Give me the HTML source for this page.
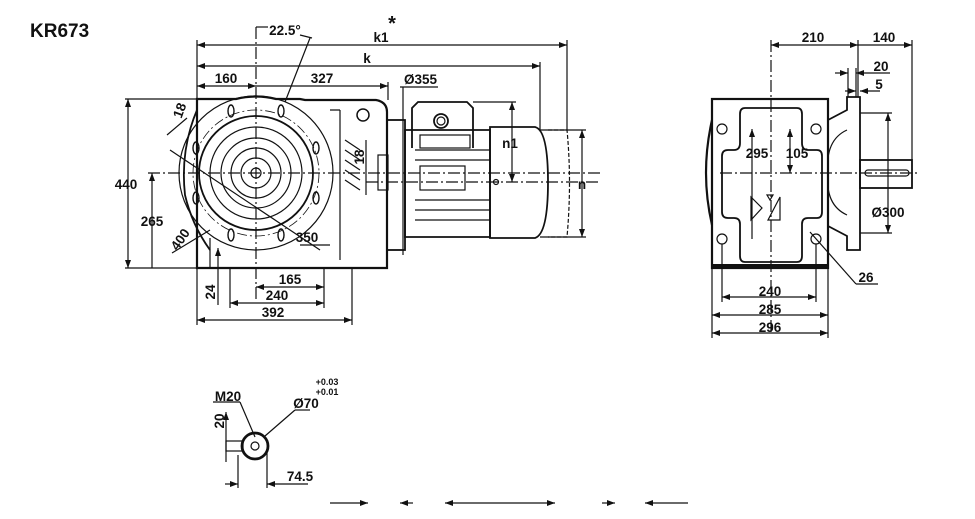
<!DOCTYPE html>
<html><head><meta charset="utf-8"><style>
html,body{margin:0;padding:0;background:#fff;}
svg{display:block;}
text{font-family:"Liberation Sans",Arial,sans-serif;font-weight:bold;fill:#111;}
</style></head><body>
<svg width="975" height="519" viewBox="0 0 975 519" xmlns="http://www.w3.org/2000/svg">
<defs>
<marker id="a" markerWidth="8" markerHeight="6" refX="8" refY="3" orient="auto-start-reverse" markerUnits="userSpaceOnUse"><path d="M0,0L8,3L0,6z" fill="#111"/></marker>
</defs>
<text x="30" y="37" font-size="19">KR673</text>

<g stroke="#111" fill="none" stroke-width="1.2">
<line x1="197" y1="45" x2="567" y2="45" marker-start="url(#a)" marker-end="url(#a)"/>
<line x1="197" y1="66" x2="540" y2="66" marker-start="url(#a)" marker-end="url(#a)"/>
<line x1="197" y1="86" x2="256" y2="86" marker-start="url(#a)" marker-end="url(#a)"/>
<line x1="256" y1="86" x2="388" y2="86" marker-end="url(#a)"/>
<line x1="197" y1="40" x2="197" y2="325"/>
<line x1="567" y1="40" x2="567" y2="130"/>
<line x1="540" y1="62" x2="540" y2="130"/>
<line x1="388" y1="82" x2="388" y2="100"/>
<line x1="256" y1="27" x2="256" y2="300" stroke-dasharray="12,3,2,3"/>
<line x1="256" y1="27" x2="268" y2="27"/>
<line x1="310" y1="38" x2="285" y2="102"/>
<line x1="300" y1="35" x2="312" y2="38"/>
<line x1="400" y1="87" x2="438" y2="87"/>
<line x1="403" y1="87" x2="403" y2="255"/>
<line x1="128" y1="99" x2="128" y2="268" marker-start="url(#a)" marker-end="url(#a)"/>
<line x1="125" y1="99" x2="197" y2="99"/>
<line x1="125" y1="268" x2="197" y2="268"/>
<line x1="152" y1="173" x2="152" y2="268" marker-start="url(#a)"/>
<line x1="148" y1="173" x2="600" y2="173" stroke-dasharray="12,3,2,3"/>
<line x1="256" y1="287" x2="324" y2="287" marker-start="url(#a)" marker-end="url(#a)"/>
<line x1="230" y1="303" x2="324" y2="303" marker-start="url(#a)" marker-end="url(#a)"/>
<line x1="197" y1="320" x2="352" y2="320" marker-start="url(#a)" marker-end="url(#a)"/>
<line x1="230" y1="268" x2="230" y2="308"/><line x1="324" y1="268" x2="324" y2="308"/>
<line x1="352" y1="268" x2="352" y2="325"/>
<line x1="218" y1="248" x2="218" y2="305" marker-start="url(#a)"/>
<line x1="366" y1="140" x2="366" y2="195"/>
<line x1="512" y1="102" x2="512" y2="182" marker-start="url(#a)" marker-end="url(#a)"/>
<line x1="473" y1="102" x2="516" y2="102"/>
<line x1="582" y1="130" x2="582" y2="237" marker-start="url(#a)" marker-end="url(#a)"/>
<line x1="540" y1="130" x2="586" y2="130"/><line x1="540" y1="237" x2="586" y2="237"/>
<line x1="170" y1="150" x2="320" y2="250"/>
<line x1="167" y1="135" x2="187" y2="118"/>
<line x1="300" y1="245" x2="330" y2="245"/>
<line x1="172" y1="253" x2="210" y2="230"/>

<path d="M197,99 L236,99 Q256,94 276,99 L300,99 L305,100 L376,100 Q387,102 387,112 L387,268 L197,268 Z" stroke-width="2.2"/>
<path d="M197,110 Q180,150 185,195 Q192,225 210,250" stroke-width="1.8"/>
<circle cx="363" cy="115" r="6" stroke-width="1.5"/>
<circle cx="256" cy="173" r="77"/>
<circle cx="256" cy="173" r="63" stroke-dasharray="10,3,2,3" stroke-width="0.8"/>
<circle cx="256" cy="173" r="57" stroke-width="1.8"/>
<circle cx="256" cy="173" r="46"/>
<circle cx="256" cy="173" r="35"/>
<circle cx="256" cy="173" r="25"/>
<circle cx="256" cy="173" r="15"/>
<circle cx="256" cy="173" r="5"/>
<g stroke-width="1.4">
<ellipse cx="231" cy="111" rx="3" ry="6"/><ellipse cx="281" cy="111" rx="3" ry="6"/>
<ellipse cx="196" cy="148" rx="3" ry="6"/><ellipse cx="316" cy="148" rx="3" ry="6"/>
<ellipse cx="196" cy="198" rx="3" ry="6"/><ellipse cx="316" cy="198" rx="3" ry="6"/>
<ellipse cx="231" cy="235" rx="3" ry="6"/><ellipse cx="281" cy="235" rx="3" ry="6"/>
</g>
<path d="M210,238 L210,268 M340,110 L340,260 M330,110 L340,110"/>
<path d="M345,140 L360,150 M345,150 L360,160 M345,160 L360,170 M345,170 L360,180 M345,180 L360,190"/>
<rect x="378" y="155" width="10" height="35"/>
<rect x="387" y="120" width="18" height="130" stroke-width="1.8"/>
<path d="M405,130 L490,130 L490,237 L405,237 Z" stroke-width="1.8"/>
<path d="M412,148 L412,108 L418,102 L467,102 L473,108 L473,148" stroke-width="1.8"/>
<circle cx="441" cy="121" r="7" stroke-width="1.8"/><circle cx="441" cy="121" r="4"/>
<rect x="420" y="135" width="50" height="13"/>
<rect x="420" y="166" width="45" height="24"/>
<path d="M415,160 H490 M415,200 H490 M415,210 H490 M415,220 H490 M415,150 H490"/>
<path d="M490,127 L535,127 Q548,130 548,182 Q548,234 535,238 L490,238 Z" stroke-width="1.8"/>
<path d="M548,130 L567,130 Q572,182 567,237 L548,237" stroke-dasharray="4,2"/>
<line x1="366" y1="182" x2="600" y2="182" stroke-dasharray="12,3,2,3"/>
<circle cx="496" cy="182" r="2.5"/>

<line x1="771" y1="45" x2="858" y2="45" marker-start="url(#a)" marker-end="url(#a)"/>
<line x1="858" y1="45" x2="912" y2="45" marker-end="url(#a)"/>
<line x1="771" y1="40" x2="771" y2="335" stroke-dasharray="12,3,2,3"/>
<line x1="858" y1="40" x2="858" y2="97"/>
<line x1="912" y1="40" x2="912" y2="160"/>
<line x1="835" y1="73" x2="848" y2="73" marker-end="url(#a)"/><line x1="856" y1="73" x2="890" y2="73" marker-start="url(#a)"/>
<line x1="845" y1="91" x2="856" y2="91" marker-end="url(#a)"/><line x1="860" y1="91" x2="880" y2="91" marker-start="url(#a)"/>
<line x1="848" y1="68" x2="848" y2="97"/><line x1="856" y1="68" x2="856" y2="97"/>
<line x1="888" y1="113" x2="888" y2="233" marker-start="url(#a)" marker-end="url(#a)"/>
<line x1="860" y1="113" x2="892" y2="113"/><line x1="860" y1="233" x2="892" y2="233"/>
<rect x="712" y="99" width="116" height="169" stroke-width="2.2"/>
<line x1="712" y1="266" x2="828" y2="266" stroke-width="4"/>
<path d="M712,120 Q700,173 712,225" stroke-width="2.2"/>
<path d="M745,108 H797 Q802,108 802,114 V143 Q802,150 808,150 H817 Q822,150 822,156 V212 Q822,218 817,218 H808 Q802,218 802,224 V256 Q802,262 797,262 H745 Q740,262 740,256 V224 Q740,218 734,218 H728 Q722,218 722,212 V156 Q722,150 728,150 H734 Q740,150 740,143 V114 Q740,108 745,108 Z" stroke-width="1.8"/>
<circle cx="722" cy="129" r="5"/><circle cx="816" cy="129" r="5"/>
<circle cx="722" cy="239" r="5"/><circle cx="816" cy="239" r="5"/>
<line x1="752" y1="129" x2="752" y2="239" marker-start="url(#a)"/>
<line x1="790" y1="129" x2="790" y2="173" marker-start="url(#a)" marker-end="url(#a)"/>
<line x1="720" y1="173" x2="920" y2="173" stroke-dasharray="12,3,2,3"/>
<path d="M751,197 L762,208 L751,220 Z M780,197 L780,220 L768,220 Z M767,195 L773,195 L770,200 Z"/>
<path d="M828,120 L847,110 L847,97 L860,97 L860,250 L847,250 L847,236 L828,226" stroke-width="1.8"/>
<path d="M847,130 Q825,140 828,173 Q825,205 847,215"/>
<rect x="860" y="160" width="52" height="28" stroke-width="1.8"/>
<rect x="865" y="170" width="44" height="6" rx="3"/>
<line x1="712" y1="268" x2="712" y2="338"/><line x1="828" y1="268" x2="828" y2="338"/>
<line x1="722" y1="244" x2="722" y2="302"/><line x1="816" y1="244" x2="816" y2="302"/>
<line x1="722" y1="297" x2="816" y2="297" marker-start="url(#a)" marker-end="url(#a)"/>
<line x1="712" y1="315" x2="828" y2="315" marker-start="url(#a)" marker-end="url(#a)"/>
<line x1="712" y1="333" x2="828" y2="333" marker-start="url(#a)" marker-end="url(#a)"/>
<line x1="810" y1="232" x2="856" y2="284"/><line x1="856" y1="284" x2="878" y2="284"/>

<circle cx="255" cy="446" r="13" stroke-width="2.8"/>
<circle cx="255" cy="446" r="4"/>
<rect x="226" y="441" width="17" height="10"/>
<line x1="226" y1="412" x2="226" y2="462" marker-start="url(#a)"/>
<line x1="255" y1="437" x2="240" y2="402"/><line x1="213" y1="402" x2="240" y2="402"/>
<line x1="265" y1="436" x2="295" y2="410"/><line x1="295" y1="410" x2="310" y2="410"/>
<line x1="238" y1="455" x2="238" y2="488"/><line x1="267" y1="450" x2="267" y2="488"/>
<line x1="225" y1="484" x2="238" y2="484" marker-end="url(#a)"/>
<line x1="267" y1="484" x2="308" y2="484" marker-start="url(#a)"/>
<line x1="330" y1="503" x2="368" y2="503" marker-end="url(#a)"/>
<line x1="400" y1="503" x2="413" y2="503" marker-start="url(#a)"/>
<line x1="445" y1="503" x2="555" y2="503" marker-start="url(#a)" marker-end="url(#a)"/>
<line x1="602" y1="503" x2="615" y2="503" marker-end="url(#a)"/>
<line x1="645" y1="503" x2="688" y2="503" marker-start="url(#a)"/>
</g>

<g font-size="13.5">
<text x="381" y="42" text-anchor="middle">k1</text>
<text x="392" y="30" text-anchor="middle" font-size="20">*</text>
<text x="367" y="63" text-anchor="middle">k</text>
<text x="285" y="35" text-anchor="middle">22.5°</text>
<text x="226" y="83" text-anchor="middle">160</text>
<text x="322" y="83" text-anchor="middle">327</text>
<text x="404" y="84">Ø355</text>
<text x="126" y="189" text-anchor="middle">440</text>
<text x="152" y="226" text-anchor="middle">265</text>
<text x="307" y="242" text-anchor="middle">350</text>
<text x="290" y="284" text-anchor="middle">165</text>
<text x="277" y="300" text-anchor="middle">240</text>
<text x="273" y="317" text-anchor="middle">392</text>
<text x="510" y="148" text-anchor="middle">n1</text>
<text x="582" y="189" text-anchor="middle">n</text>
<text transform="translate(184,112) rotate(-70)" text-anchor="middle">18</text>
<text transform="translate(364,157) rotate(-90)" text-anchor="middle">18</text>
<text transform="translate(184,242) rotate(-55)" text-anchor="middle">400</text>
<text transform="translate(215,292) rotate(-90)" text-anchor="middle">24</text>
<text x="813" y="42" text-anchor="middle">210</text>
<text x="884" y="42" text-anchor="middle">140</text>
<text x="881" y="71" text-anchor="middle">20</text>
<text x="879" y="89" text-anchor="middle">5</text>
<text x="757" y="158" text-anchor="middle">295</text>
<text x="797" y="158" text-anchor="middle">105</text>
<text x="888" y="217" text-anchor="middle">Ø300</text>
<text x="866" y="282" text-anchor="middle">26</text>
<text x="770" y="296" text-anchor="middle">240</text>
<text x="770" y="314" text-anchor="middle">285</text>
<text x="770" y="332" text-anchor="middle">296</text>
<text x="228" y="401" text-anchor="middle">M20</text>
<text x="306" y="408" text-anchor="middle">Ø70</text>
<text x="327" y="385" text-anchor="middle" font-size="9">+0.03</text>
<text x="327" y="395" text-anchor="middle" font-size="9">+0.01</text>
<text transform="translate(224,421) rotate(-90)" text-anchor="middle">20</text>
<text x="300" y="481" text-anchor="middle">74.5</text>
</g>
</svg>
</body></html>
